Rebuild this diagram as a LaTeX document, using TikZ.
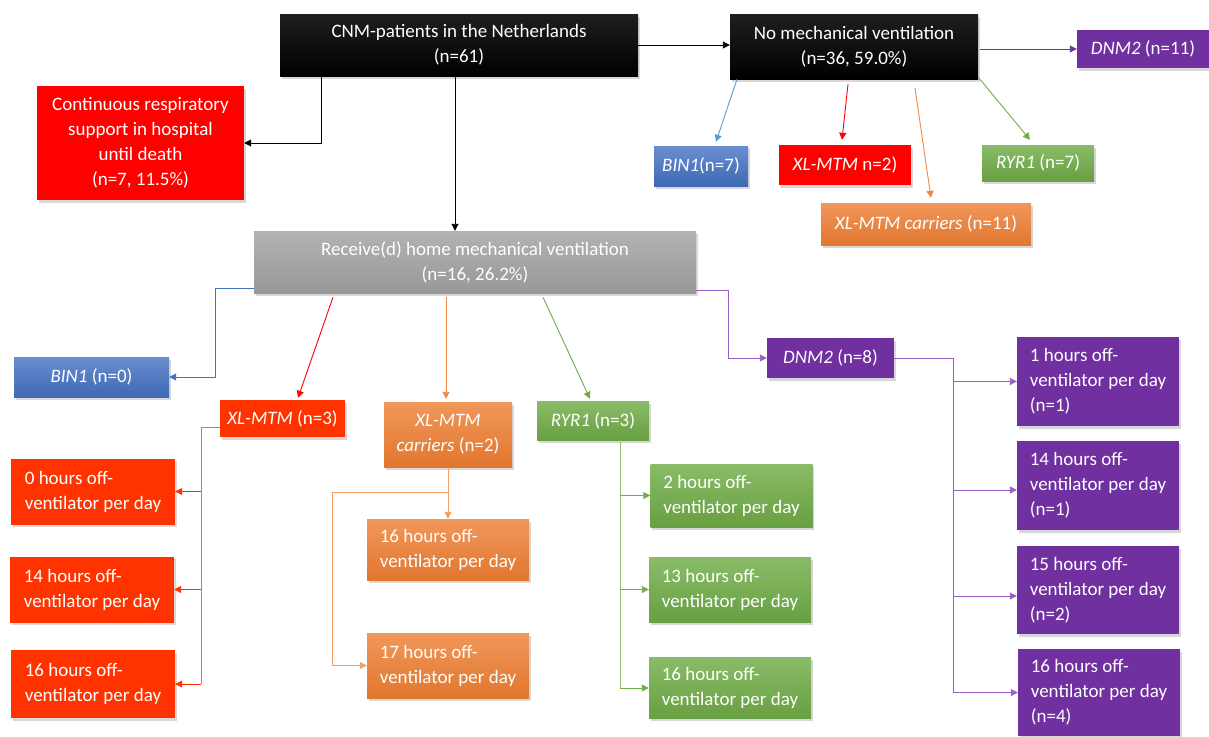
\documentclass[tikz,border=0pt]{standalone}
\usepackage{fontspec}
\setmainfont{Carlito}
\usetikzlibrary{arrows.meta,shadows}
\definecolor{cblue}{HTML}{4472C4}
\definecolor{lblue}{HTML}{5B9BD5}
\definecolor{cred}{HTML}{FF0000}
\definecolor{cored}{HTML}{FF3300}
\definecolor{corange}{HTML}{ED7D31}
\definecolor{cgreen}{HTML}{70AD47}
\definecolor{cpurple}{HTML}{7030A0}
\definecolor{lpurple}{HTML}{9A5CC8}
\definecolor{cgray}{HTML}{A5A5A5}
\begin{document}
\begin{tikzpicture}[x=1pt,y=-1pt,
  base/.style={text=white, font=\fontsize{19}{25}\selectfont, inner sep=2pt, align=center,
    drop shadow={shadow xshift=1.5pt,shadow yshift=-2.5pt,opacity=0.3}},
  blk/.style={base, top color=black!88, bottom color=black},
  pur/.style={base, fill=cpurple},
  redb/.style={base, fill=cred},
  ored/.style={base, fill=cored},
  gry/.style={base, top color=cgray!85!white, bottom color=cgray!92!black},
  blu/.style={base, top color=cblue!80!white, bottom color=cblue!92!black},
  org/.style={base, top color=corange!80!white, bottom color=corange!95!black},
  grn/.style={base, top color=cgreen!82!white, bottom color=cgreen!92!black},
  leaf/.style={align=left, minimum width=162pt},
  leafr/.style={align=left, minimum width=164pt},
  tip/.style={-{Triangle[length=7pt,width=7pt]}},
  ln/.style={line width=0.9pt},
]
\useasboundingbox (0,0) rectangle (1209,736);
\fill[white] (0,0) rectangle (1209,736);

% top level
\node[blk, minimum width=358pt, minimum height=62pt] (cnm) at (459,45) {CNM-patients in the Netherlands\\(n=61)};
\node[blk, minimum width=248pt, minimum height=65pt] (nomv) at (854,46.5) {No mechanical ventilation\\(n=36, 59.0\%)};
\node[pur, minimum width=132pt, minimum height=38pt] (dnmA) at (1143,49) {\textit{DNM2} (n=11)};
\node[redb, minimum width=207pt, minimum height=114pt] (cont) at (140.5,143) {Continuous respiratory\\support in hospital\\until death\\(n=7, 11.5\%)};
\node[gry, minimum width=442pt, minimum height=62pt] (recv) at (475,262) {Receive(d) home mechanical ventilation\\(n=16, 26.2\%)};

% no ventilation groups
\node[blu, minimum width=94pt, minimum height=40pt] (binA) at (701,166) {\textit{BIN1}(n=7)};
\node[redb, minimum width=132pt, minimum height=40pt] (xlA) at (845,165) {\textit{XL-MTM} n=2)};
\node[grn, minimum width=112pt, minimum height=36pt] (ryrA) at (1038,163) {\textit{RYR1} (n=7)};
\node[org, minimum width=210pt, minimum height=42pt] (carA) at (926,224) {\textit{XL-MTM carriers} (n=11)};

% home ventilation groups
\node[blu, minimum width=155pt, minimum height=40pt] (binB) at (91.5,377) {\textit{BIN1} (n=0)};
\node[ored, minimum width=125pt, minimum height=37pt] (xlB) at (282.5,418.5) {\textit{XL-MTM} (n=3)};
\node[org, minimum width=128pt, minimum height=65pt] (carB) at (448,434.5) {\textit{XL-MTM}\\\textit{carriers} (n=2)};
\node[grn, minimum width=112pt, minimum height=39pt] (ryrB) at (593,420.5) {\textit{RYR1} (n=3)};
\node[pur, minimum width=127pt, minimum height=40pt] (dnmB) at (830.5,358) {\textit{DNM2} (n=8)};

% leaves
\node[ored, leafr, minimum height=66pt] (r0) at (93,491.5) {0 hours off-\\ventilator per day};
\node[ored, leafr, minimum height=66pt] (r14) at (92,589.5) {14 hours off-\\ventilator per day};
\node[ored, leafr, minimum height=68pt] (r16) at (93,684) {16 hours off-\\ventilator per day};
\node[org, leaf, minimum height=61pt] (o16) at (448,549.5) {16 hours off-\\ventilator per day};
\node[org, leaf, minimum height=65pt] (o17) at (448,665.5) {17 hours off-\\ventilator per day};
\node[grn, leaf, minimum height=63pt] (g2) at (731.5,495.5) {2 hours off-\\ventilator per day};
\node[grn, leaf, minimum height=65pt] (g13) at (730,589.5) {13 hours off-\\ventilator per day};
\node[grn, leaf, minimum height=61pt] (g16) at (730,688) {16 hours off-\\ventilator per day};
\node[pur, leaf, minimum height=89pt] (p1) at (1098,381.5) {1 hours off-\\ventilator per day\\(n=1)};
\node[pur, leaf, minimum height=89pt] (p14) at (1098,485.5) {14 hours off-\\ventilator per day\\(n=1)};
\node[pur, leaf, minimum height=88pt] (p15) at (1098,590) {15 hours off-\\ventilator per day\\(n=2)};
\node[pur, leaf, minimum height=87pt] (p16) at (1099,692.5) {16 hours off-\\ventilator per day\\(n=4)};

% connectors: top level
\draw[ln, tip] (cnm.east) -- (cnm.east -| nomv.west);
\draw[ln, tip] ([xshift=-138pt]cnm.south) |- (cont.east);
\draw[ln, tip] ([xshift=-4pt]cnm.south) -- ([xshift=-20pt]recv.north);
\draw[ln, tip, cpurple] ([xshift=2pt]nomv.east |- dnmA.west) -- (dnmA.west);

% no ventilation
\draw[ln, tip, lblue] ([xshift=-117pt]nomv.south) -- ([xshift=15pt,yshift=4pt]binA.north);
\draw[ln, tip, cred] ([xshift=-6pt,yshift=-5pt]nomv.south) -- ([xshift=-3pt,yshift=5pt]xlA.north);
\draw[ln, tip, corange!90!white] ([xshift=61pt,yshift=-9pt]nomv.south) -- ([xshift=5pt,yshift=5pt]carA.north);
\draw[ln, tip, cgreen] ([yshift=2pt]nomv.south east) -- ([xshift=-8pt,yshift=5pt]ryrA.north);

% home ventilation
\draw[ln, tip, cblue] ([yshift=5pt]recv.south west) -| ([xshift=46pt]binB.east) -- (binB.east);
\draw[ln, tip, cred] ([xshift=-142pt,yshift=-4pt]recv.south) -- ([xshift=15.5pt,yshift=2pt]xlB.north);
\draw[ln, tip, corange!90!white] ([xshift=-29pt,yshift=-4pt]recv.south) -- ([xshift=-2pt,yshift=3pt]carB.north);
\draw[ln, tip, cgreen] ([xshift=68pt,yshift=-4pt]recv.south) -- ([xshift=-3pt,yshift=2pt]ryrB.north);
\draw[ln, tip, lpurple] ([yshift=3pt]recv.south east) -| ([xshift=-38pt]dnmB.west) -- (dnmB.west);

% XL-MTM (n=3) tree
\coordinate (rt) at ([xshift=26pt]r16.east);
\draw[ln, cored!75!white] ([yshift=-9pt]xlB.west) -| (rt);
\draw[ln, tip, cored] (rt |- r0.east) -- (r0.east);
\draw[ln, tip, cored] (rt |- r14.east) -- (r14.east);
\draw[ln, tip, cored] (rt) -- (r16.east);

% carriers (n=2) tree
\coordinate (cb) at ([yshift=-25pt]carB.south);
\draw[ln, tip, corange!75!white] (carB.south) -- (o16.north);
\draw[ln, tip, corange!75!white] (cb) -| ([xshift=-34pt]o17.west) -- (o17.west);

% RYR1 (n=3) tree
\coordinate (gt) at ([xshift=27pt]ryrB.south);
\draw[ln, cgreen!75!white] (gt) -- (gt |- g16.west);
\draw[ln, tip, cgreen] (gt |- g2.west) -- (g2.west);
\draw[ln, tip, cgreen] (gt |- g13.west) -- (g13.west);
\draw[ln, tip, cgreen] (gt |- g16.west) -- (g16.west);

% DNM2 (n=8) tree
\coordinate (pt) at ([xshift=59pt]dnmB.east);
\draw[ln, lpurple] (dnmB.east) -- (pt) -- (pt |- p16.west);
\draw[ln, tip, lpurple] (pt |- p1.west) -- (p1.west);
\draw[ln, tip, lpurple] ([yshift=-4.5pt]pt |- p14.west) -- ([yshift=-4.5pt]p14.west);
\draw[ln, tip, lpurple] ([yshift=-6pt]pt |- p15.west) -- ([yshift=-6pt]p15.west);
\draw[ln, tip, lpurple] (pt |- p16.west) -- (p16.west);
\end{tikzpicture}
\end{document}
